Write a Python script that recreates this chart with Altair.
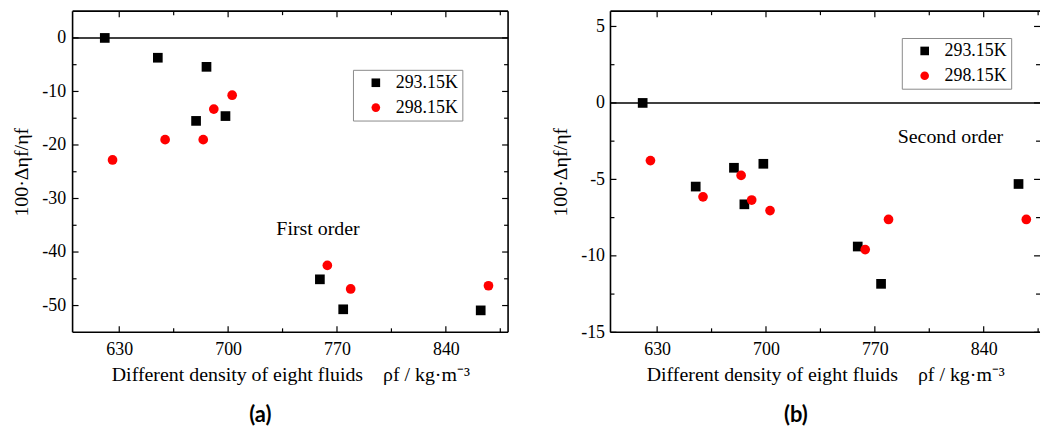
import altair as alt
import pandas as pd

# ---------------- data ----------------
temps = ["293.15K", "298.15K"]
dens_293 = [620.7, 654.8, 679.4, 686.1, 698.3, 759.0, 774.0, 862.4]
dens_298 = [625.7, 659.5, 684.0, 690.8, 702.6, 763.8, 778.8, 867.4]
first_293 = [0.0, -3.7, -15.5, -5.4, -14.6, -45.1, -50.7, -50.9]
first_298 = [-22.8, -19.0, -19.0, -13.3, -10.7, -42.5, -46.9, -46.3]
second_293 = [0.0, -5.47, -4.24, -6.63, -3.98, -9.39, -11.83, -5.30]
second_298 = [-3.77, -6.14, -4.74, -6.35, -7.04, -9.59, -7.62, -7.62]

x_major = [630, 700, 770, 840]
x_minor = [665, 735, 805, 875]
ya_major = [0, -10, -20, -30, -40, -50]
ya_minor = [-5, -15, -25, -35, -45]
yb_major = [5, 0, -5, -10, -15]
yb_minor = [2.5, -2.5, -7.5, -12.5]

note_a = ["First order"]
note_a_pos = [757.8, -36.9]
note_b = ["Second order"]
note_b_pos = [818.6, -2.65]

x_title = "Different density of eight fluids\u00a0\u00a0\u00a0\u00a0ρf / kg·m⁻³"
y_title = "100·Δηf/ηf"

FONT = "Liberation Serif"
H = 323
W_A = 438
W_B = 432


def make_legend(legxy):
    return alt.Legend(
        title=None, orient="none", legendX=legxy[0], legendY=legxy[1],
        direction="vertical", strokeColor="#8a8a8a", fillColor="white",
        padding=4, symbolOffset=10, labelOffset=11,
        labelFont=FONT, labelFontSize=18, labelColor="black",
        symbolSize=75, rowPadding=7, symbolStrokeWidth=0)


def panel(v293, v298, xdom, ydom, ymaj, ymin, W, legxy, note, note_pos, label,
          right_border, lab_pad):
    xs = alt.Scale(domain=xdom, nice=False, zero=False)
    ys = alt.Scale(domain=ydom, nice=False, zero=False)

    df = pd.DataFrame({
        "d": dens_293 + dens_298,
        "v": v293 + v298,
        "T": [temps[0]] * len(dens_293) + [temps[1]] * len(dens_298),
    })

    pts = alt.Chart(df).mark_point(filled=True, size=95, opacity=1).encode(
        x=alt.X("d:Q", scale=xs, axis=alt.Axis(
            title=x_title, values=x_major, grid=False, ticks=False, tickSize=0,
            domain=False, labelFont=FONT, labelFontSize=18, labelColor="black",
            labelPadding=8, titleFont=FONT, titleFontSize=20,
            titleFontWeight="normal", titleColor="black", titlePadding=6)),
        y=alt.Y("v:Q", scale=ys, axis=alt.Axis(
            title=y_title, values=ymaj, grid=False, ticks=False, tickSize=0,
            domain=False, labelFont=FONT, labelFontSize=18, labelColor="black",
            labelPadding=lab_pad, labelExpr="'' + datum.value",
            titleFont=FONT, titleFontSize=20, titleFontWeight="normal",
            titleColor="black", titlePadding=10)),
        color=alt.Color("T:N", scale=alt.Scale(domain=temps, range=["black", "#ff0000"]),
                        legend=make_legend(legxy)),
        shape=alt.Shape("T:N", scale=alt.Scale(domain=temps, range=["square", "circle"]),
                        legend=make_legend(legxy)),
    )

    zero = alt.Chart(pd.DataFrame({"y": [0]})).mark_rule(color="black", strokeWidth=1.5).encode(
        y=alt.Y("y:Q", scale=ys, axis=None))

    def yticks(vals, x0, x1):
        return alt.Chart(pd.DataFrame({"t": vals})).mark_rule(color="black", strokeWidth=1.2).encode(
            y=alt.Y("t:Q", scale=ys, axis=None), x=alt.value(x0), x2=alt.value(x1))

    def xticks(vals, y0, y1):
        return alt.Chart(pd.DataFrame({"t": vals})).mark_rule(color="black", strokeWidth=1.2).encode(
            x=alt.X("t:Q", scale=xs, axis=None), y=alt.value(y0), y2=alt.value(y1))

    layers = [
        yticks(ymaj, 0, 6), yticks(ymin, 0, 4),
        yticks(ymaj, W, W - 6), yticks(ymin, W, W - 4),
        xticks(x_major, 0, 6), xticks(x_minor, 0, 4),
        xticks(x_major, H, H - 6), xticks(x_minor, H, H - 4),
    ]

    border_style = dict(color="black", strokeWidth=1.6)
    borders = [
        alt.Chart(pd.DataFrame({"a": [0]})).mark_rule(**border_style).encode(
            x=alt.value(0), x2=alt.value(W), y=alt.value(0)),
        alt.Chart(pd.DataFrame({"a": [0]})).mark_rule(**border_style).encode(
            x=alt.value(0), x2=alt.value(W), y=alt.value(H)),
        alt.Chart(pd.DataFrame({"a": [0]})).mark_rule(**border_style).encode(
            x=alt.value(0), y=alt.value(0), y2=alt.value(H)),
    ]
    if right_border:
        borders.append(alt.Chart(pd.DataFrame({"a": [0]})).mark_rule(**border_style).encode(
            x=alt.value(W), y=alt.value(0), y2=alt.value(H)))

    txt = alt.Chart(pd.DataFrame({"x": [note_pos[0]], "y": [note_pos[1]], "s": note})).mark_text(
        font=FONT, fontSize=20, align="center", baseline="alphabetic", color="black").encode(
        x=alt.X("x:Q", scale=xs, axis=None), y=alt.Y("y:Q", scale=ys, axis=None), text="s:N")

    return alt.layer(pts, zero, *layers, *borders, txt).resolve_axis(
        x="independent", y="independent").properties(
        width=W, height=H,
        title=alt.TitleParams(label, orient="bottom", font="Lato", fontSize=22,
                              fontWeight="bold", anchor="middle", frame="bounds",
                              offset=21, color="black"))


a = panel(first_293, first_298, [600, 880], [-55, 5], ya_major, ya_minor, W_A,
          (282, 59), note_a, note_a_pos, "(a)", True, 7)
b = panel(second_293, second_298, [600, 600 + W_B / 1.564], [-15, 6], yb_major, yb_minor, W_B,
          (293, 27), note_b, note_b_pos, "(b)", False, 6)

chart = alt.hconcat(a, b, spacing=40).resolve_scale(
    x="independent", y="independent", color="independent", shape="independent"
).configure(font=FONT).configure_axis(
    labelFont=FONT, titleFont=FONT
).configure_legend(labelFont=FONT).configure_view(stroke="transparent").properties(
    padding={"left": 11, "top": 8, "right": 0, "bottom": 0},
    background="white",
)

chart.save("out.html", embed_options={"renderer": "svg", "actions": False})
